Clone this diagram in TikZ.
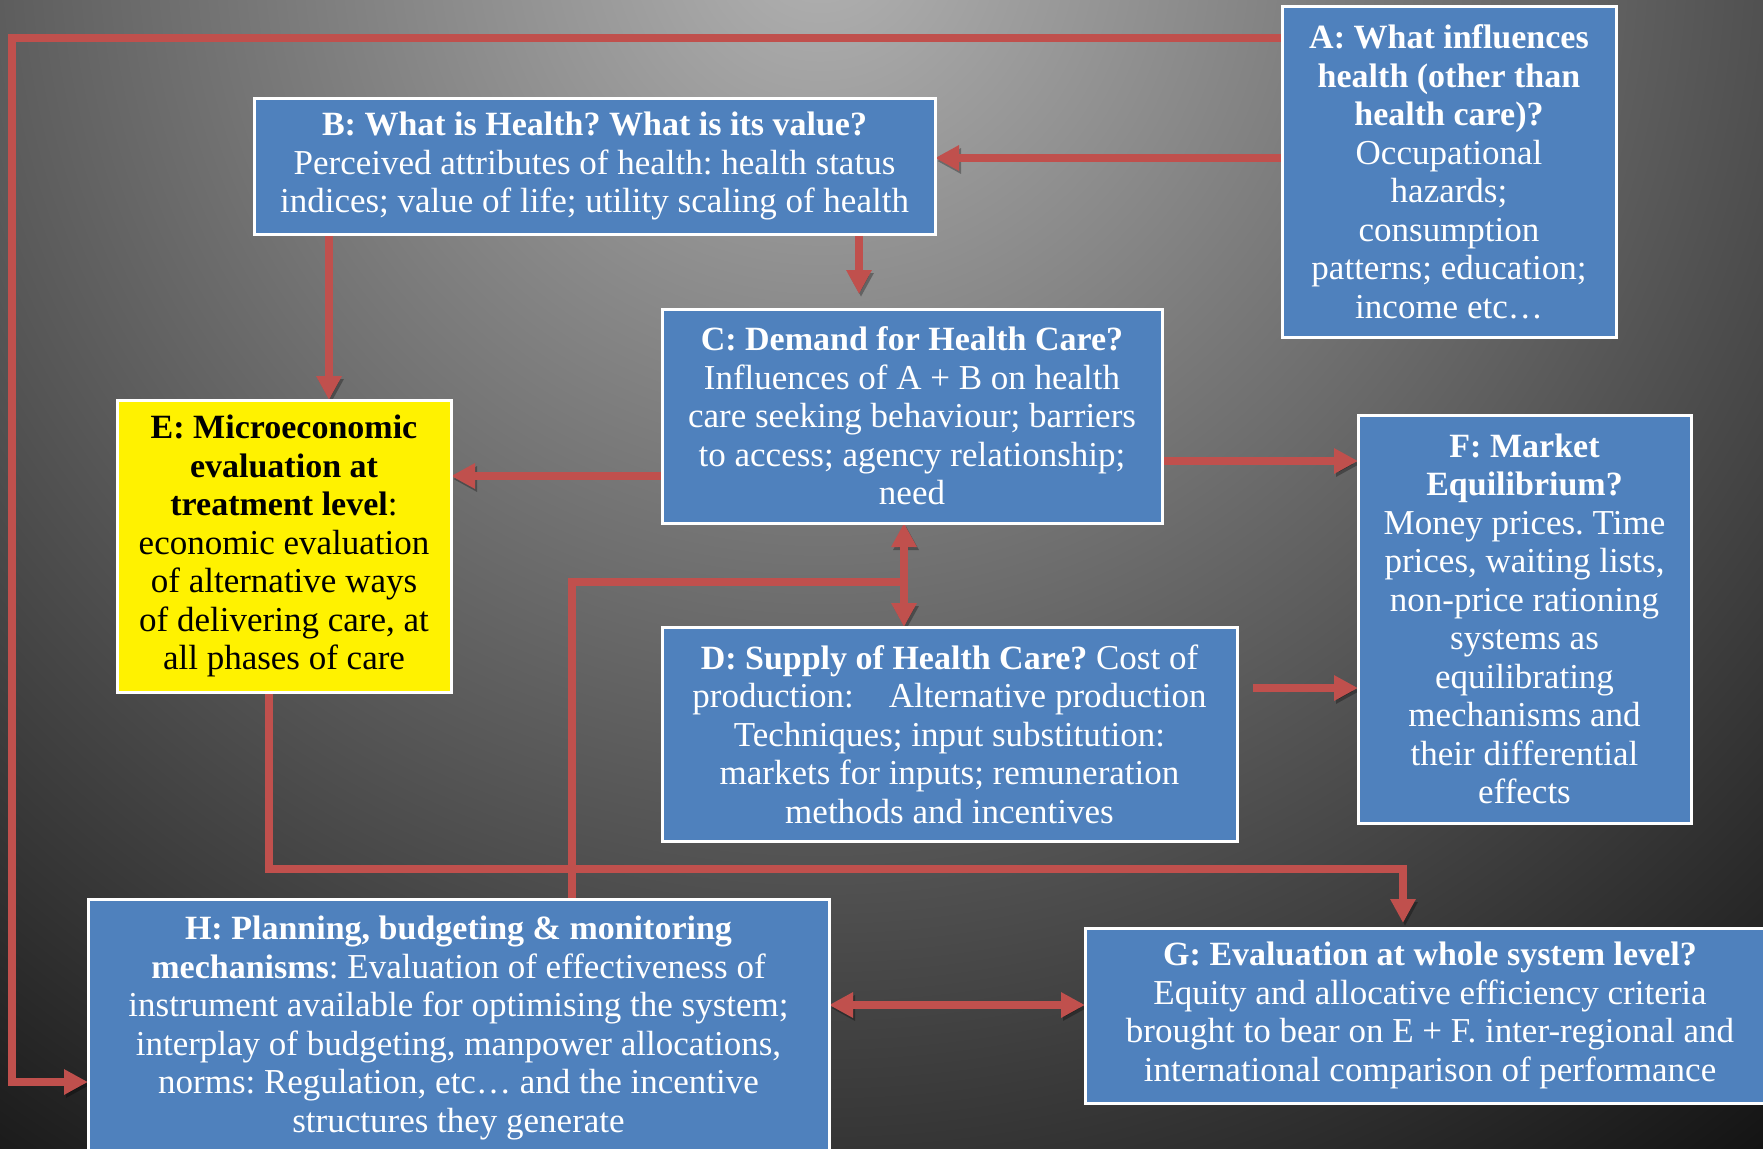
\documentclass[tikz,border=0pt]{standalone}
\usepackage{fontspec}
\setmainfont{Liberation Serif}
\usetikzlibrary{arrows.meta}
\definecolor{boxblue}{HTML}{4F81BD}
\definecolor{arrred}{HTML}{C0504D}
\definecolor{bgin}{HTML}{B2B2B2}
\definecolor{bgout}{HTML}{121212}
\pgfdeclarelayer{bglayer}
\pgfdeclarelayer{lines}
\pgfsetlayers{bglayer,lines,main}
\frenchspacing
\newcommand\boldt[1]{{\fontsize{34}{38.5}\selectfont\bfseries #1}}
\tikzset{
  box/.style={rectangle, draw=white, line width=3pt, fill=boxblue, text=white,
    align=center, inner sep=0pt, outer sep=0pt, font=\fontsize{35}{38.5}\selectfont\frenchspacing},
  ybox/.style={box, fill=yellow, text=black},
  conn/.style={draw=arrred, line width=8pt,
    preaction={draw=black, opacity=0.3, transform canvas={shift={(2pt,-3pt)}}}},
  arr/.style={conn, -{Triangle[length=24pt,width=24pt]}},
  darr/.style={conn, {Triangle[length=24pt,width=24pt]}-{Triangle[length=24pt,width=24pt]}},
}
\begin{document}
\begin{tikzpicture}[x=1pt,y=-1pt]
\useasboundingbox (0,0) rectangle (1763,1148);
\begin{pgfonlayer}{bglayer}
\shade[inner color=bgin, outer color=bgout] (-730,-1610) rectangle (2370,1490);
\end{pgfonlayer}

\node[box, minimum width=334pt, minimum height=330pt] (A) at (1449,172)
 {\boldt{A: What influences}\\ \boldt{health (other than}\\ \boldt{health care)?}\\
  Occupational\\ hazards;\\ consumption\\ patterns; education;\\ income etc…};
\node[box, minimum width=681pt, minimum height=136pt] (B) at (594.5,166)
 {\boldt{B: What is Health? What is its value?}\\
  Perceived attributes of health: health status\\
  indices; value of life; utility scaling of health};
\node[box, minimum width=500pt, minimum height=214pt] (C) at (912,416)
 {\boldt{C: Demand for Health Care?}\\ Influences of A + B on health\\
  care seeking behaviour; barriers\\ to access; agency relationship;\\ need};
\node[ybox, minimum width=334pt, minimum height=292pt] (E) at (284,546)
 {\boldt{E: Microeconomic}\\ \boldt{evaluation at}\\ \boldt{treatment level}:\\
  economic evaluation\\ of alternative ways\\ of delivering care, at\\ all phases of care};
\node[box, minimum width=575pt, minimum height=214pt] (D) at (949.5,734)
 {\boldt{D: Supply of Health Care?} Cost of\\ production:\quad Alternative production\\
  Techniques; input substitution:\\ markets for inputs; remuneration\\ methods and incentives};
\node[box, minimum width=333pt, minimum height=408pt] (F) at (1524.5,619)
 {\boldt{F: Market}\\ \boldt{Equilibrium?}\\ Money prices. Time\\ prices, waiting lists,\\
  non-price rationing\\ systems as\\ equilibrating\\ mechanisms and\\ their differential\\ effects};
\node[box, minimum width=690pt, minimum height=175pt] (G) at (1430,1015.5)
 {\boldt{G: Evaluation at whole system level?}\\ Equity and allocative efficiency criteria\\
  brought to bear on E + F. inter-regional and\\ international comparison of performance};
\node[box, minimum width=741pt, minimum height=290pt] (H) at (458.5,1044)
 {\boldt{H: Planning, budgeting \& monitoring}\\
  \boldt{mechanisms}: Evaluation of effectiveness of\\
  instrument available for optimising the system;\\
  interplay of budgeting, manpower allocations,\\
  norms: Regulation, etc… and the incentive\\
  structures they generate\rule[-40pt]{0pt}{40pt}};

\coordinate (loopTL) at (12,38);
\coordinate (loopBL) at (12,1082);
\coordinate (hj) at (904,582);
\coordinate (hc) at (572,582);
\coordinate (ec) at (269,869);
\coordinate (gc) at (1403,869);

\begin{pgfonlayer}{lines}
\draw[arr] (A.west |- 0,38) -- (loopTL) -- (loopBL) -- (H.west |- loopBL);
\draw[arr] (A.west |- 0,158) -- (B.east |- 0,158);
\draw[arr] (B.south -| 329,0) -- (E.north -| 329,0);
\draw[arr, shorten >=15pt] (B.south -| 859,0) -- (C.north -| 859,0);
\draw[arr] (C.west |- 0,476) -- (E.east |- 0,476);
\draw[arr] (C.east |- 0,461) -- (F.west |- 0,461);
\draw[arr] (E.south -| ec) -- (ec) -- (gc) -- ([yshift=5pt]G.north -| gc);
\draw[conn] (H.north -| hc) -- (hc) -- (hj);
\draw[darr] (C.south -| hj) -- (D.north -| hj);
\draw[arr, shorten <=16pt] (D.east |- 0,688) -- (F.west |- 0,688);
\draw[darr] (H.east |- 0,1005) -- (G.west |- 0,1005);
\end{pgfonlayer}
\end{tikzpicture}
\end{document}
